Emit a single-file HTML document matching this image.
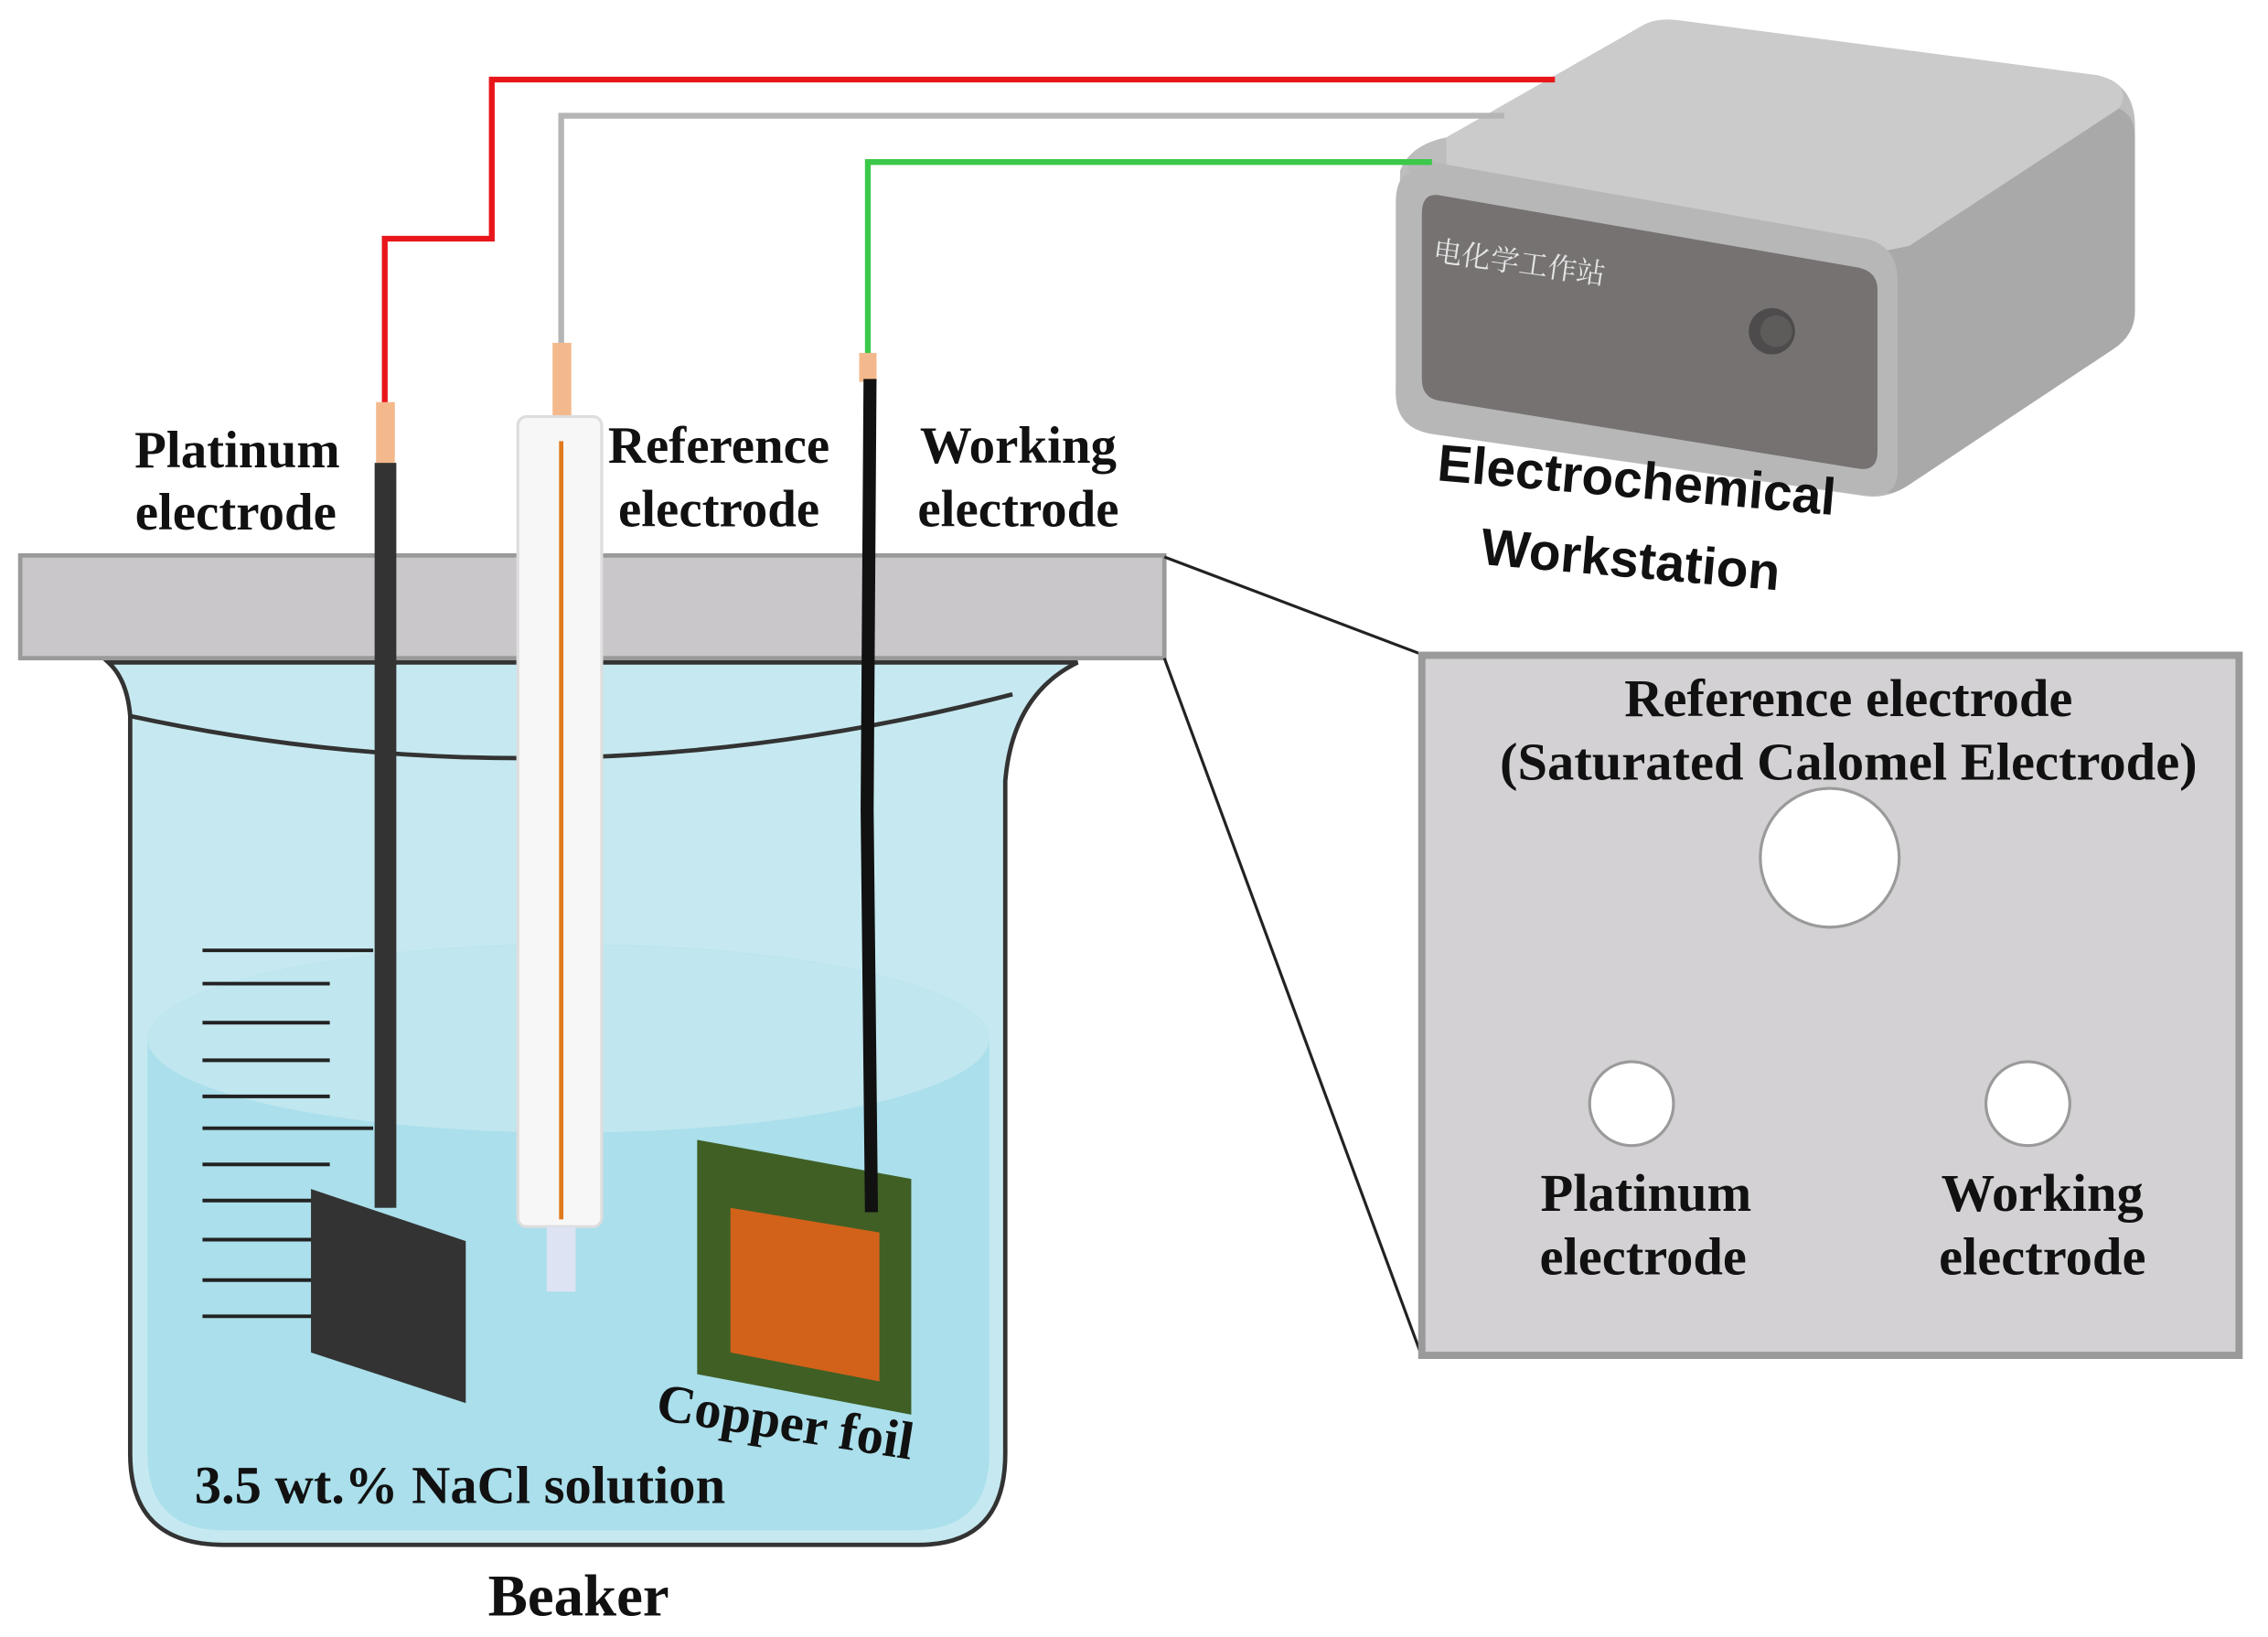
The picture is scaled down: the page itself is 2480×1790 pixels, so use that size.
<!DOCTYPE html>
<html><head><meta charset="utf-8"><style>html,body{margin:0;padding:0;background:#fff}svg{display:block}</style></head>
<body>
<svg width="2480" height="1790" viewBox="0 0 1568 1131.7" xmlns="http://www.w3.org/2000/svg">
<rect width="1568" height="1132" fill="#fff"/>
<!-- workstation -->
<path d="M968,118 Q975,100 1000,95 L1135,18 Q1145,12 1160,14 L1450,52 Q1475,58 1476,85 L1476,215 Q1476,232 1460,242 L1320,335 Q1305,345 1290,343 L990,300 Q965,295 965,270 Z" fill="#bdbdbd"/>
<path d="M1000,95 L1135,18 Q1145,12 1160,14 L1450,52 Q1475,58 1465,75 L1320,170 Q1305,178 1290,176 L1000,125 Z" fill="#cbcbcb"/>
<path d="M1290,176 L1320,170 L1465,75 Q1476,80 1476,95 L1476,215 Q1476,232 1460,242 L1320,335 Q1305,345 1300,338 Z" fill="#a9a9a9"/>
<path d="M975,120 Q968,110 990,112 L1290,165 Q1312,170 1312,195 L1312,325 Q1312,345 1290,342 L990,300 Q965,296 965,272 L965,140 Q965,122 975,120 Z" fill="#b7b7b7"/>
<path d="M995,135 L1285,185 Q1298,188 1298,200 L1298,312 Q1298,326 1285,324 L995,277 Q983,275 983,262 L983,148 Q983,133 995,135 Z" fill="#767272"/>
<text x="990" y="180" font-family="Noto Serif CJK SC, serif" font-size="20" fill="#e4e4e4" transform="rotate(8 990 180)">电化学工作站</text>
<circle cx="1225" cy="229" r="16" fill="#4d4b4b"/><circle cx="1228" cy="229" r="11" fill="#5e5b5b"/>
<text x="993" y="332" font-family="Liberation Sans, sans-serif" font-weight="bold" font-size="36" fill="#111" transform="rotate(5 993 332)">Electrochemical</text>
<text x="1023" y="390" font-family="Liberation Sans, sans-serif" font-weight="bold" font-size="36" fill="#111" transform="rotate(5 1023 390)">Workstation</text>
<!-- wires -->
<polyline points="1075,55 340,55 340,165 266,165 266,280" fill="none" stroke="#e8161b" stroke-width="4"/>
<polyline points="1040,80 388,80 388,240" fill="none" stroke="#b5b5b5" stroke-width="4"/>
<polyline points="990,112 600,112 600,246" fill="none" stroke="#3cc84a" stroke-width="4"/>
<!-- beaker -->
<path d="M75,458 Q88,470 90,495 L90,1005 Q90,1068 155,1068 L635,1068 Q695,1068 695,1005 L695,540 Q700,480 745,458 Z" fill="#c6e9f1" stroke="#333" stroke-width="3"/>
<path d="M102,718 A290,65 0 0 1 684,718 L684,1005 Q684,1058 630,1058 L155,1058 Q102,1058 102,1005 Z" fill="#aadfeb"/>
<ellipse cx="393" cy="718" rx="291" ry="65" fill="#c0e6ef"/>
<path d="M90,495 Q390,560 700,480" fill="none" stroke="#333" stroke-width="3"/>
<g stroke="#222" stroke-width="2.5">
<line x1="140" y1="657" x2="258" y2="657"/><line x1="140" y1="680" x2="228" y2="680"/><line x1="140" y1="707" x2="228" y2="707"/><line x1="140" y1="733" x2="228" y2="733"/><line x1="140" y1="758" x2="228" y2="758"/><line x1="140" y1="780" x2="258" y2="780"/><line x1="140" y1="805" x2="228" y2="805"/><line x1="140" y1="830" x2="228" y2="830"/><line x1="140" y1="857" x2="228" y2="857"/><line x1="140" y1="885" x2="228" y2="885"/><line x1="140" y1="910" x2="258" y2="910"/>
</g>
<!-- plate -->
<rect x="14" y="384" width="791" height="71" fill="#c9c7c9" stroke="#9a9a9a" stroke-width="3"/>
<!-- platinum -->
<rect x="260" y="278" width="13" height="44" fill="#f3b98c"/>
<rect x="259" y="320" width="15" height="515" fill="#333"/>
<polygon points="215,822 322,858 322,970 215,935" fill="#333"/>
<!-- reference -->
<rect x="382" y="237" width="13" height="52" fill="#f3b98c"/>
<rect x="358" y="288" width="58" height="560" rx="6" fill="#f7f7f7" stroke="#ddd" stroke-width="2"/>
<line x1="388" y1="305" x2="388" y2="843" stroke="#e07a1f" stroke-width="3"/>
<rect x="378" y="848" width="20" height="45" fill="#dde3f2"/>
<!-- working -->
<rect x="594" y="244" width="12" height="20" fill="#f3b98c"/>
<polygon points="482,788 630,815 630,978 482,950" fill="#3f5f25"/>
<polygon points="505,835 608,852 608,955 505,935" fill="#d2621a"/>
<path d="M597,262 L606,262 L604,560 L607,838 L598,838 L595,560 Z" fill="#111"/>
<!-- labels -->
<g font-family="Liberation Serif, serif" font-weight="bold" font-size="36" fill="#111" text-anchor="middle">
<text x="164" y="323">Platinum</text><text x="163" y="366">electrode</text>
<text x="497" y="320">Reference</text><text x="497" y="364">electrode</text>
<text x="704" y="320">Working</text><text x="704" y="364">electrode</text>
<text x="318" y="1039" font-size="37">3.5 wt.% NaCl solution</text>
<text x="541" y="995" font-size="37" transform="rotate(9 541 995)">Copper foil</text>
<text x="400" y="1117" font-size="41">Beaker</text>
</g>
<!-- zoom box -->
<line x1="805" y1="385" x2="982" y2="452" stroke="#222" stroke-width="2"/>
<line x1="805" y1="455" x2="982" y2="935" stroke="#222" stroke-width="2"/>
<rect x="983" y="453" width="565" height="484" fill="#d3d1d3" stroke="#9a9a9a" stroke-width="5"/>
<g font-family="Liberation Serif, serif" font-weight="bold" font-size="37" fill="#111" text-anchor="middle">
<text x="1278" y="495">Reference electrode</text>
<text x="1278" y="539">(Saturated Calomel Electrode)</text>
<text x="1138" y="837">Platinum</text><text x="1136" y="881">electrode</text>
<text x="1412" y="837">Working</text><text x="1412" y="881">electrode</text>
</g>
<circle cx="1265" cy="593" r="48" fill="#fff" stroke="#9a9a9a" stroke-width="2"/>
<circle cx="1128" cy="763" r="29" fill="#fff" stroke="#9a9a9a" stroke-width="2"/>
<circle cx="1402" cy="763" r="29" fill="#fff" stroke="#9a9a9a" stroke-width="2"/>
</svg>
</body></html>
